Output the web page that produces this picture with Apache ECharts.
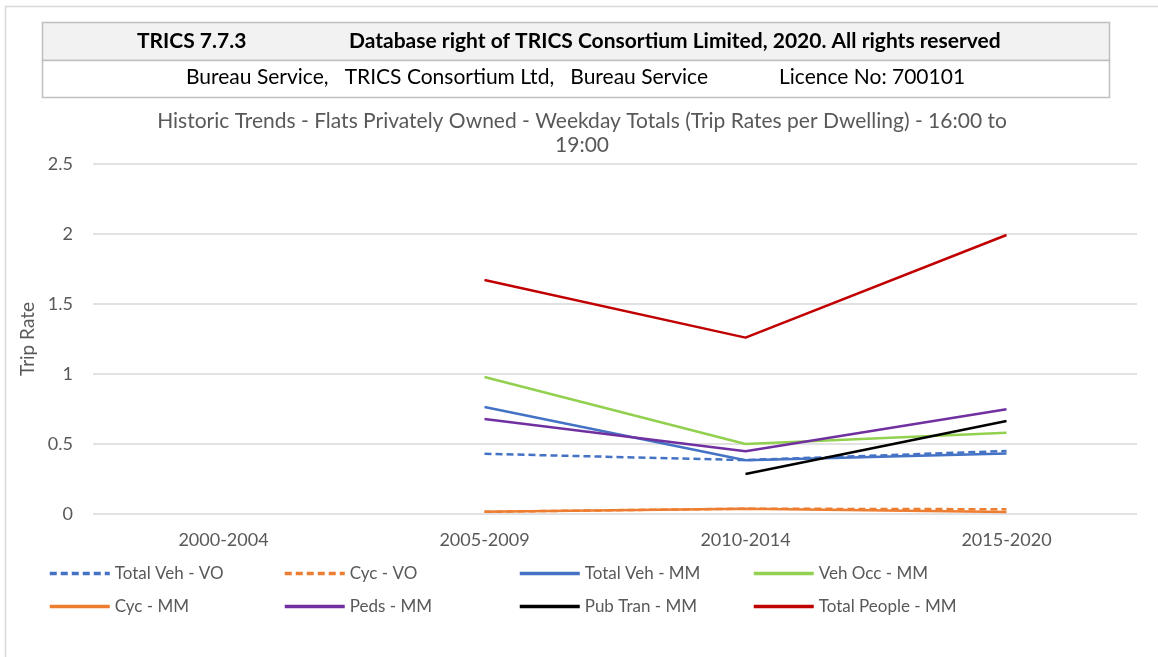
<!DOCTYPE html>
<html>
<head>
<meta charset="utf-8">
<script src="https://cdn.jsdelivr.net/npm/echarts@6/dist/echarts.min.js"></script>
<style>
  html, body { margin: 0; padding: 0; background: #fff; }
  #chart { width: 1158px; height: 657px; }
</style>
</head>
<body>
<div id="chart"></div>
<script>
// 数据
const categories = ['2000-2004', '2005-2009', '2010-2014', '2015-2020']
const seriesNames = ['Total Veh - VO', 'Cyc - VO', 'Total Veh - MM', 'Veh Occ - MM',
  'Cyc - MM', 'Peds - MM', 'Pub Tran - MM', 'Total People - MM']
const totVehVO = [null, 0.43, 0.385, 0.45]
const cycVO = [null, 0.016, 0.038, 0.034]
const totVehMM = [null, 0.764, 0.384, 0.433]
const vehOccMM = [null, 0.979, 0.50, 0.58]
const cycMM = [null, 0.016, 0.038, 0.014]
const pedsMM = [null, 0.679, 0.448, 0.748]
const pubTranMM = [null, null, 0.286, 0.664]
const totPeopleMM = [null, 1.671, 1.26, 1.993]
const yTicks = [0, 0.5, 1, 1.5, 2, 2.5]

const values = [totVehVO, cycVO, totVehMM, vehOccMM, cycMM, pedsMM, pubTranMM, totPeopleMM]
const colors = ['#4472C4', '#ED7D31', '#4472C4', '#92D050', '#ED7D31', '#7030A0', '#000000', '#C00000']
const dashed = [true, true, false, false, false, false, false, false]

const font = 'Lato, "Open Sans", sans-serif'
const grey = '#595959'

const chart = echarts.init(document.getElementById('chart'))

// 图例：两行四列
const legendPos = [
  [48, 565], [283, 565], [518, 565], [752, 565],
  [48, 598], [283, 598], [518, 598], [752, 598]
]
const legends = seriesNames.map((n, i) => ({
  data: [n],
  left: legendPos[i][0],
  top: legendPos[i][1],
  padding: 0,
  itemWidth: 60,
  itemHeight: 14,
  itemGap: 0,
  itemStyle: { opacity: 0 },
  lineStyle: { width: 3.5, type: dashed[i] ? [7, 4] : 'solid' },
  textStyle: { color: grey, fontSize: 17, fontFamily: font }
}))

chart.setOption({
  backgroundColor: '#fff',
  animation: false,
  textStyle: { fontFamily: font },
  title: {
    text: 'Historic Trends - Flats Privately Owned - Weekday Totals (Trip Rates per Dwelling) - 16:00 to\n19:00',
    left: 582,
    top: 109,
    padding: 0,
    textAlign: 'center',
    textStyle: { color: grey, fontSize: 21, fontWeight: 'normal', fontFamily: font, lineHeight: 24, align: 'center' }
  },
  legend: legends,
  grid: { left: 93, right: 21, top: 164, bottom: 143 },
  xAxis: {
    type: 'category',
    data: categories,
    boundaryGap: true,
    axisLine: { show: false },
    axisTick: { show: false },
    axisLabel: { color: grey, fontSize: 18, fontFamily: font, margin: 17 }
  },
  yAxis: {
    type: 'value',
    min: yTicks[0],
    max: yTicks[yTicks.length - 1],
    interval: 0.5,
    name: 'Trip Rate',
    nameLocation: 'middle',
    nameGap: 52,
    nameTextStyle: { color: grey, fontSize: 19, fontFamily: font },
    axisLine: { show: false },
    axisTick: { show: false },
    axisLabel: { color: grey, fontSize: 18, fontFamily: font, margin: 20 },
    splitLine: { lineStyle: { color: '#d9d9d9', width: 1.5 } }
  },
  series: seriesNames.map((n, i) => ({
    name: n,
    type: 'line',
    data: values[i],
    symbol: 'none',
    connectNulls: false,
    color: colors[i],
    lineStyle: { color: colors[i], width: 2.5, type: dashed[i] ? [7, 4] : 'solid' }
  })),
  graphic: [
    // 外框
    { type: 'rect', shape: { x: 5.5, y: 6.5, width: 1200, height: 700 }, style: { fill: 'none', stroke: '#d9d9d9', lineWidth: 1.5 } },
    // 表头
    { type: 'rect', shape: { x: 42.5, y: 22.5, width: 1067, height: 38 }, style: { fill: '#f2f2f2', stroke: '#bfbfbf', lineWidth: 1.5 } },
    { type: 'rect', shape: { x: 42.5, y: 60.5, width: 1067, height: 37 }, style: { fill: '#fff', stroke: '#bfbfbf', lineWidth: 1.5 } },
    { type: 'text', left: 137, top: 31, style: { text: 'TRICS 7.7.3', fill: '#000', font: 'bold 21px ' + font } },
    { type: 'text', left: 349, top: 31, style: { text: 'Database right of TRICS Consortium Limited, 2020. All rights reserved', fill: '#000', font: 'bold 21px ' + font } },
    { type: 'text', left: 186, top: 67, style: { text: 'Bureau Service,   TRICS Consortium Ltd,   Bureau Service', fill: '#000', font: '21px ' + font } },
    { type: 'text', left: 779, top: 67, style: { text: 'Licence No: 700101', fill: '#000', font: '21px ' + font } }
  ]
})
</script>
</body>
</html>
